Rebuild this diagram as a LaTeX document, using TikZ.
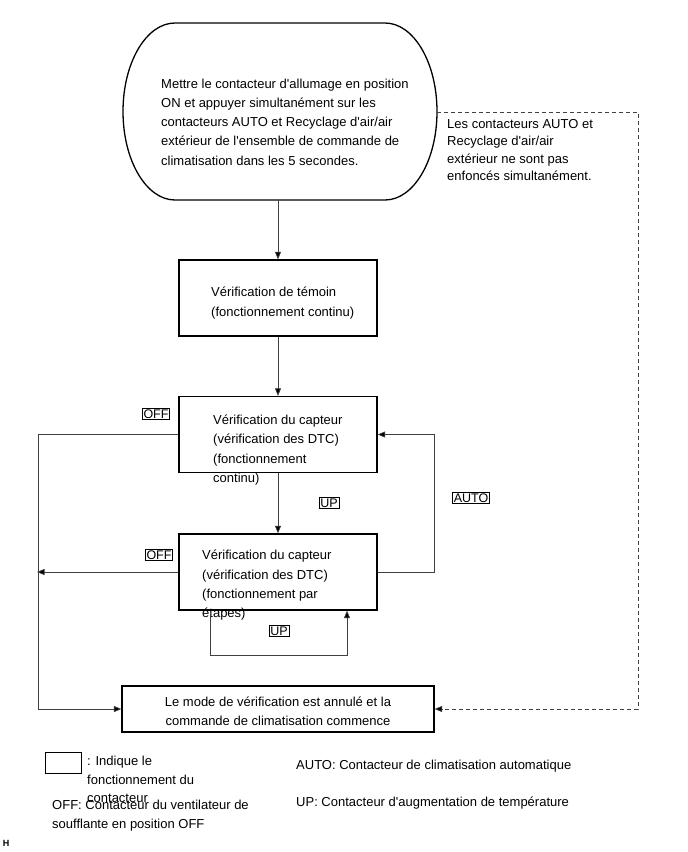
\documentclass[tikz,border=0pt]{standalone}
\usepackage{fontspec}
\setmainfont{Liberation Sans}[Ligatures=TeXOff]
\usetikzlibrary{arrows.meta,positioning}

\newcommand{\mainfs}{\fontsize{13}{19.3}\selectfont}
\newcommand{\dashfs}{\fontsize{13}{17.6}\selectfont}
\newcommand{\legfs}{\fontsize{13}{18.5}\selectfont}

\tikzset{
  flowbox/.style={draw, line width=1.3pt, inner sep=0pt,
    minimum width=198pt, minimum height=76pt},
  txt/.style={align=left, inner sep=0pt, anchor=west, font=\mainfs},
  swlabel/.style={draw, line width=0.5pt, inner sep=1.2pt,
    font=\fontsize{12.5}{12.5}\selectfont},
  flow/.style={draw=black!75, line width=0.7pt,
    -{Triangle[length=7.5pt,width=6pt,fill=black]}},
}

\begin{document}
\begin{tikzpicture}[x=1pt, y=-1pt]
\useasboundingbox (0,0) rectangle (688,852);

% start (terminal shape)
\draw[line width=1.3pt] (175,23) -- (385,23)
  arc (-90:90:52 and 88.5) -- (175,200)
  arc (90:270:52 and 88.5) -- cycle;
\node[txt] (start) at (161,122) {Mettre le contacteur d'allumage en position\\
  ON et appuyer simultanément sur les\\
  contacteurs AUTO et Recyclage d'air/air\\
  extérieur de l'ensemble de commande de\\
  climatisation dans les 5 secondes.};
\coordinate (startS) at (278,200);
\coordinate (startE) at (437,112);

% boxes
\node[flowbox] (chk) at (278,298) {};
\node[txt] (chktxt) at (211,303) {Vérification de témoin\\(fonctionnement continu)};

\node[flowbox] (sens) at (278,434.5) {};
\node[txt] (senstxt) at (213,450) {Vérification du capteur\\(vérification des DTC)\\(fonctionnement\\continu)};

\node[flowbox] (sensstep) at (278,572) {};
\node[txt] (steptxt) at (202,585.5) {Vérification du capteur\\(vérification des DTC)\\(fonctionnement par\\étapes)};

\node[flowbox, minimum width=312pt, minimum height=46pt] (endbox) at (278,709) {};
\node[txt, align=center, anchor=center] (endtxt) at (278,711) {Le mode de vérification est annulé et la\\commande de climatisation commence};

\node[txt, font=\dashfs] (notxt) at (447,150) {Les contacteurs AUTO et\\Recyclage d'air/air\\extérieur ne sont pas\\enfoncés simultanément.};

% bus points
\coordinate (offbus) at (38,434.5);
\coordinate (autobus) at (434,572);
\coordinate (dashbus) at (638,112);

% connectors
\draw[flow] (startS) -- (chk.north);
\draw[flow] (chk.south) -- (sens.north);
\draw[flow] (sens.south) -- (sensstep.north);
\draw[flow] (sens.west) -- (offbus) |- (endbox.west);
\draw[flow, shorten >=-1pt] (sensstep.west) -- (sensstep.west -| offbus);
\draw[flow] (sensstep.east) -- (autobus) |- (sens.east);
\draw[flow] ([xshift=-68pt]sensstep.south) -- ++(0,45) -| ([xshift=69pt]sensstep.south);
\draw[flow, dashed, dash pattern=on 4pt off 3pt] (startE) -- (dashbus) |- (endbox.east);

% switch labels
\node[swlabel] (off1) at (156,414) {OFF};
\node[swlabel] (off2) at (159,555) {OFF};
\node[swlabel] (up1) at (329,503) {UP};
\node[swlabel] (up2) at (279,631) {UP};
\node[swlabel] (auto) at (471,498) {AUTO};

% legend
\node[draw, line width=0.6pt, minimum width=36pt, minimum height=21pt, inner sep=0pt] (legbox) at (63.5,763) {};
\node[txt, font=\legfs, anchor=north west] (legsw) at (87,756) {: Indique le\\fonctionnement du\\contacteur};
\node[txt, font=\legfs, anchor=north west] (legoff) at (52,800) {OFF: Contacteur du ventilateur de\\soufflante en position OFF};
\node[txt, font=\legfs, anchor=west] (legauto) at (296,766) {AUTO: Contacteur de climatisation automatique};
\node[txt, font=\legfs, anchor=west] (legup) at (296,803) {UP: Contacteur d'augmentation de température};
\node[inner sep=0pt, font=\bfseries\fontsize{9}{9}\selectfont] (hmark) at (6,843) {H};
\end{tikzpicture}
\end{document}
